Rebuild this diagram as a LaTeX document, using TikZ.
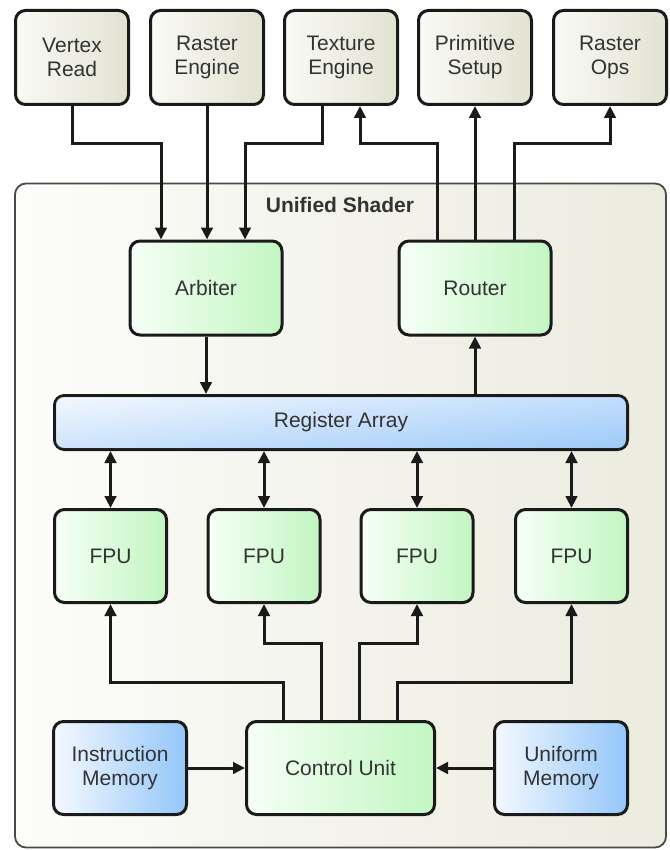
\documentclass[tikz,border=0pt]{standalone}
\usepackage{fontspec}
\setmainfont{Liberation Sans}
\usetikzlibrary{arrows.meta}
\definecolor{txt}{HTML}{333333}
\definecolor{begL}{HTML}{FAFAF6}
\definecolor{begR}{HTML}{E2E2D2}
\definecolor{grnL}{HTML}{F6FFF6}
\definecolor{grnR}{HTML}{C2F6C2}
\definecolor{bluL}{HTML}{F4F9FF}
\definecolor{bluR}{HTML}{94C6FA}
\definecolor{regT}{HTML}{EAF3FF}
\definecolor{regB}{HTML}{A4CDF8}
\definecolor{conL}{HTML}{FCFCFA}
\definecolor{conR}{HTML}{EBEBDF}
\definecolor{edge}{HTML}{1A1A1A}
\definecolor{conedge}{HTML}{4A4A4A}
\begin{document}
\begin{tikzpicture}[x=1pt,y=-1pt,
  box/.style={draw=edge, line width=3pt, rounded corners=10pt, inner sep=0pt,
    align=center, text=txt, font=\fontsize{21}{24}\selectfont},
  ext/.style={box, minimum width=113pt, minimum height=94pt, left color=begL, right color=begR},
  grn/.style={box, left color=grnL, right color=grnR},
  blu/.style={box, left color=bluL, right color=bluR},
  container/.style={draw=conedge, line width=1.8pt, rounded corners=11pt, inner sep=0pt,
    left color=conL, right color=conR},
  arr/.style={draw=edge, line width=3pt, -{Triangle[length=12pt,width=11.5pt]}},
  darr/.style={draw=edge, line width=3pt, {Triangle[length=12pt,width=11.5pt]}-{Triangle[length=12pt,width=11.5pt]}}
]
\path[use as bounding box, fill=white] (0,0) rectangle (669,850);

% container
\node[container, minimum width=651pt, minimum height=664pt] (us) at (340.5,515.5) {};
\node[font=\bfseries\fontsize{21}{24}\selectfont, text=txt] (title) at (340,205) {Unified Shader};

% external units
\node[ext] (vr) at (72,57.5) {Vertex\\Read};
\node[ext] (re) at (207,57.5) {Raster\\Engine};
\node[ext] (te) at (341,57.5) {Texture\\Engine};
\node[ext] (ps) at (475,57.5) {Primitive\\Setup};
\node[ext] (ro) at (610,57.5) {Raster\\Ops};

% shader internals
\node[grn, minimum width=152pt, minimum height=94pt] (arb) at (206,288) {Arbiter};
\node[grn, minimum width=152pt, minimum height=94pt] (rt) at (475,288) {Router};
\node[box, minimum width=573pt, minimum height=54pt, top color=regT, bottom color=regB] (reg) at (341,422.5) {};
\path[rounded corners=7pt, left color=white, right color=bluR, fill opacity=0.45]
  ([xshift=3pt,yshift=3pt]reg.south west) rectangle ([xshift=-3pt,yshift=-3pt]reg.north east);
\node[text=txt, font=\fontsize{21}{24}\selectfont] (regtxt) at (reg.center) {Register Array};

\node[grn, minimum width=112pt, minimum height=93pt] (f1) at (110.5,556) {FPU};
\node[grn, minimum width=112pt, minimum height=93pt] (f2) at (264,556) {FPU};
\node[grn, minimum width=112pt, minimum height=93pt] (f3) at (417,556) {FPU};
\node[grn, minimum width=112pt, minimum height=93pt] (f4) at (571.5,556) {FPU};

\node[grn, minimum width=188pt, minimum height=93pt] (cu) at (340.5,768) {Control Unit};
\node[blu, minimum width=133pt, minimum height=93pt] (im) at (120,768) {Instruction\\Memory};
\node[blu, minimum width=133pt, minimum height=93pt] (um) at (561,768) {Uniform\\Memory};

% inputs to arbiter
\coordinate (j1) at (161,144);
\coordinate (j2) at (245,144);
\draw[arr] (vr.south) |- (j1) -- (j1 |- arb.north);
\draw[arr] (re.south) -- (re.south |- arb.north);
\draw[arr] ([xshift=-19pt]te.south) |- (j2) -- (j2 |- arb.north);

% router outputs
\coordinate (j3) at (360,144);
\coordinate (j4) at (610,144);
\draw[arr] ([xshift=-38pt]rt.north) |- (j3) -- (j3 |- te.south);
\draw[arr] (rt.north) -- (rt.north |- ps.south);
\draw[arr] ([xshift=39pt]rt.north) |- (j4) -- (ro.south);

% arbiter / router with register array
\draw[arr] (arb.south) -- (arb.south |- reg.north);
\draw[arr] (rt.south |- reg.north) -- (rt.south);

% register array <-> FPUs
\draw[darr] (f1.north |- reg.south) -- (f1.north);
\draw[darr] (f2.north |- reg.south) -- (f2.north);
\draw[darr] (f3.north |- reg.south) -- (f3.north);
\draw[darr] (f4.north |- reg.south) -- (f4.north);

% control unit to FPUs
\coordinate (k1) at (110.5,682);
\coordinate (k2) at (264,643);
\coordinate (k3) at (417,643);
\coordinate (k4) at (571.5,682);
\draw[arr] ([xshift=-57pt]cu.north) |- (k1) -- (f1.south);
\draw[arr] ([xshift=-19pt]cu.north) |- (k2) -- (f2.south);
\draw[arr] ([xshift=19pt]cu.north) |- (k3) -- (f3.south);
\draw[arr] ([xshift=57pt]cu.north) |- (k4) -- (f4.south);

% memories
\draw[arr] (im.east) -- (cu.west);
\draw[arr] (um.west) -- (cu.east);
\end{tikzpicture}
\end{document}
